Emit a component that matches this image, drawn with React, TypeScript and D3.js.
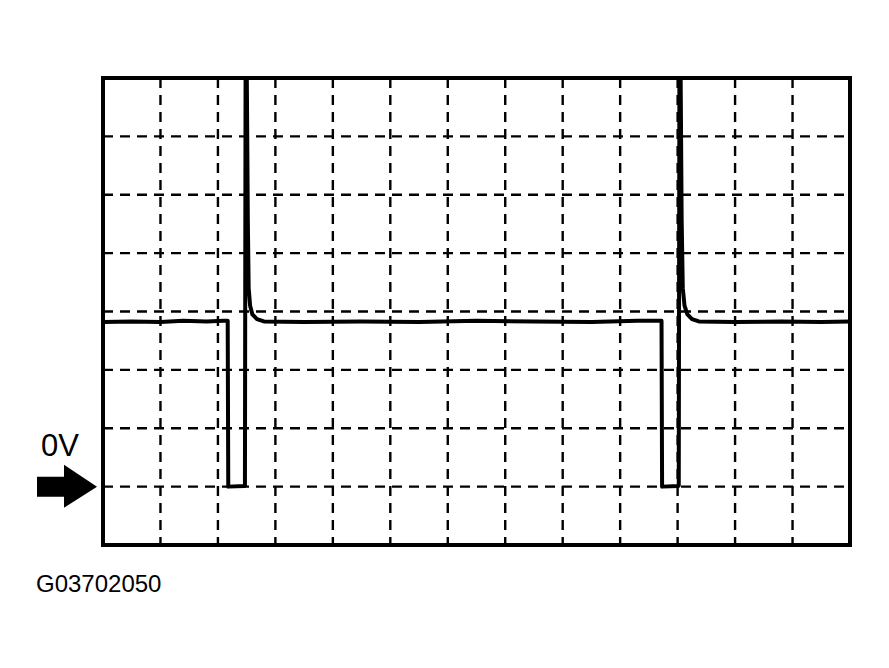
import * as d3 from 'd3'

const W = 889, H = 668
const BOX = { left: 103, right: 850, top: 78, bottom: 545 }

// time in divisions (13 across), voltage in divisions (0V one div above bottom)
const T_DIVS = 13
const V_MIN = -1, V_MAX = 7

const TIME = [
  0, 0.5, 1.0, 1.4, 1.8, 2.1, 2.17, 2.18, 2.46, 2.47, 2.485, 2.52, 2.535, 2.56, 2.6, 2.68, 2.8,
  3.5, 4.5, 5.5, 6.5, 7.5, 8.5, 9.3, 9.72, 9.73, 10.01, 10.02, 10.035, 10.07, 10.09, 10.12, 10.17, 10.25, 10.37,
  11.0, 11.8, 12.5, 13,
]
const VOLTS = [
  2.82, 2.83, 2.82, 2.84, 2.83, 2.84, 2.84, 0.0, 0.01, 0.02, 9.5, 4.6, 3.4, 3.1, 2.95, 2.87, 2.83,
  2.82, 2.83, 2.82, 2.84, 2.83, 2.82, 2.84, 2.84, 0.0, 0.01, 0.02, 9.5, 4.6, 3.4, 3.1, 2.95, 2.87, 2.83,
  2.82, 2.83, 2.82, 2.83,
]

const V_GRID = [1, 2, 3, 4, 5, 6, 7, 8, 9, 10, 11, 12]
const H_GRID = [0, 1, 2, 3, 4, 5, 6]

const ZERO_LABEL = '0V'
const FIG_ID = 'G03702050'

const FONT = '"Liberation Sans", Arial, Helvetica, sans-serif'

export default function App() {
  const x = d3.scaleLinear().domain([0, T_DIVS]).range([BOX.left, BOX.right])
  const y = d3.scaleLinear().domain([V_MIN, V_MAX]).range([BOX.bottom, BOX.top])

  const pts = TIME.map((t, i) => [t, VOLTS[i]] as [number, number])
  const wave = d3.line<[number, number]>().x(d => x(d[0])).y(d => y(d[1]))(pts) ?? ''

  const y0 = y(0)

  return (
    <div style={{ position: 'absolute', left: 0, top: 0 }}>
      <svg width={W} height={H} viewBox={`0 0 ${W} ${H}`} style={{ display: 'block', background: '#fff' }}>
        <defs>
          <clipPath id="scope">
            <rect x={BOX.left} y={BOX.top} width={BOX.right - BOX.left} height={BOX.bottom - BOX.top} />
          </clipPath>
        </defs>

        {/* grid */}
        {V_GRID.map(d => (
          <line key={`v${d}`} x1={x(d)} x2={x(d)} y1={BOX.top} y2={BOX.bottom}
            stroke="#000" strokeWidth={2.4} strokeDasharray="10 7" />
        ))}
        {H_GRID.map(d => (
          <line key={`h${d}`} x1={BOX.left} x2={BOX.right} y1={y(d)} y2={y(d)}
            stroke="#000" strokeWidth={2.4} strokeDasharray="10 7" />
        ))}

        {/* waveform */}
        <path d={wave} fill="none" stroke="#000" strokeWidth={4}
          strokeLinejoin="round" clipPath="url(#scope)" />

        {/* frame */}
        <rect x={BOX.left} y={BOX.top} width={BOX.right - BOX.left} height={BOX.bottom - BOX.top}
          fill="none" stroke="#000" strokeWidth={4} />

        {/* 0V marker */}
        <text x={41} y={456} fontFamily={FONT} fontSize={31} fill="#000">{ZERO_LABEL}</text>
        <path
          d={`M37,${y0 - 10} L64,${y0 - 10} L64,${y0 - 22} L97,${y0} L64,${y0 + 21} L64,${y0 + 10} L37,${y0 + 10} Z`}
          fill="#000" />

        <text x={36} y={592} fontFamily={FONT} fontSize={24} fill="#000">{FIG_ID}</text>
      </svg>
    </div>
  )
}
